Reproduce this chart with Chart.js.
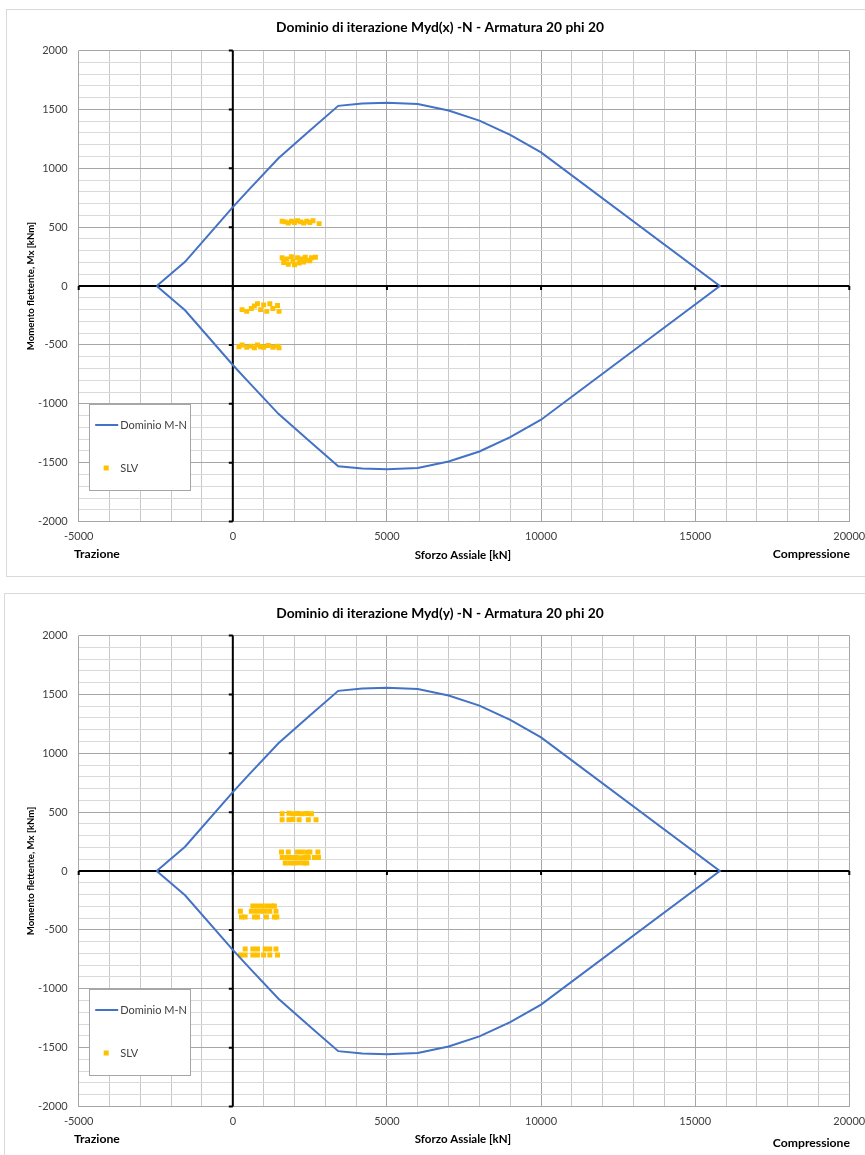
<!DOCTYPE html>
<html>
<head>
<meta charset="utf-8">
<script src="https://cdn.jsdelivr.net/npm/chart.js@4"></script>
<style>
    body { margin: 0; background: #FFF; width: 865px; height: 1155px; overflow: hidden; position: relative; }
    .frame { position: absolute; border: 1px solid #D9D9D9; }
    canvas { position: absolute; left: 0; }
</style>
</head>
<body>
<div class="frame" style="left:6px; top:9px; width:870px; height:566px;"></div>
<div class="frame" style="left:4px; top:593px; width:870px; height:600px;"></div>
<canvas id="chartX" width="865" height="585" style="top:0px;"></canvas>
<canvas id="chartY" width="865" height="570" style="top:585px;"></canvas>
<script>
// interaction domain M-N (same for both directions), closed curve
const domainN = [-2470, -1550, 0, 500, 1480, 2500, 3420, 4200, 5000, 6000, 7000, 8000, 9000, 10000, 15800,
    10000, 9000, 8000, 7000, 6000, 5000, 4200, 3420, 2500, 1480, 500, 0, -1550, -2470];
const domainM = [0, 206, 670, 812, 1085, 1320, 1530, 1550, 1556, 1545, 1490, 1405, 1283, 1135, 0,
    -1135, -1283, -1405, -1490, -1545, -1556, -1550, -1530, -1320, -1085, -812, -670, -206, 0];

// SLV points, Myd(x)
const slvXN = [
    1600, 1700, 1800, 1900, 2000, 2100, 2200, 2300, 2400, 2500, 2600, 2800,
    1600, 1650, 1750, 1800, 1900, 1950, 2000, 2100, 2150, 2200, 2300, 2350, 2400, 2500, 2550, 2680,
    300, 450, 600, 700, 800, 900, 1000, 1100, 1200, 1300, 1450, 1500,
    200, 300, 450, 600, 700, 800, 900, 1000, 1150, 1300, 1450, 1500];
const slvXM = [
    550, 545, 535, 550, 540, 555, 545, 535, 550, 540, 555, 530,
    240, 200, 230, 185, 250, 210, 180, 240, 195, 230, 205, 245, 220, 215, 240, 245,
    -200, -215, -190, -170, -150, -200, -160, -215, -150, -190, -165, -215,
    -515, -500, -520, -510, -525, -500, -515, -520, -505, -520, -510, -525];

// SLV points, Myd(y)
const slvYN = [
    1600, 1820, 1950, 2100, 2250, 2400, 2550,
    1600, 1820, 1950, 2150, 2450, 2700,
    1580, 1800, 2100, 2250, 2400, 2500, 2760,
    1600, 1750, 1900, 2050, 2200, 2350, 2450, 2650, 2780,
    1700, 1850, 2000, 2150, 2300, 2400,
    650, 800, 950, 1100, 1250, 1350,
    245, 600, 750, 900, 1050, 1200, 1400,
    280, 400, 700, 800, 1090, 1350, 1430,
    400, 650, 800, 1050, 1200, 1400,
    250, 400, 650, 800, 1000, 1200, 1450];
const slvYM = [
    487, 490, 487, 488, 486, 489, 487,
    436, 436, 437, 435, 436, 436,
    161, 161, 161, 162, 160, 161, 161,
    114, 114, 115, 114, 113, 114, 114, 114, 114,
    68, 68, 68, 69, 68, 68,
    -297, -297, -297, -297, -297, -297,
    -342, -342, -342, -342, -342, -342, -342,
    -390, -390, -390, -390, -390, -390, -390,
    -663, -663, -663, -663, -663, -663,
    -714, -714, -714, -714, -714, -714, -714];

const xTickLabels = [-5000, 0, 5000, 10000, 15000, 20000];
const yTickLabels = [-2000, -1500, -1000, -500, 0, 500, 1000, 1500, 2000];

const FONT = "Lato, 'Liberation Sans', sans-serif";
const BLUE = "#4472C4";
const GOLD = "#FFC000";

function toPoints(ns, ms) {
    return ns.map((n, i) => ({ x: n, y: ms[i] }));
}

// black axes crossing at 0 with small tick marks
const zeroAxes = {
    id: "zeroAxes",
    beforeDatasetsDraw(chart) {
        const { ctx, chartArea, scales: { x, y } } = chart;
        const x0 = x.getPixelForValue(0);
        const y0 = y.getPixelForValue(0);
        ctx.save();
        ctx.strokeStyle = "#000";
        ctx.lineWidth = 2;
        ctx.beginPath();
        ctx.moveTo(chartArea.left, y0);
        ctx.lineTo(chartArea.right, y0);
        ctx.moveTo(x0, chartArea.top);
        ctx.lineTo(x0, chartArea.bottom);
        ctx.stroke();
        ctx.beginPath();
        for (const v of yTickLabels) {
            const py = y.getPixelForValue(v);
            ctx.moveTo(x0 - 4, py);
            ctx.lineTo(x0, py);
        }
        for (const v of xTickLabels) {
            const px = x.getPixelForValue(v);
            ctx.moveTo(px, y0);
            ctx.lineTo(px, y0 + 4);
        }
        ctx.stroke();
        ctx.restore();
    }
};

// title, axis titles, legend box
const chartTexts = {
    id: "chartTexts",
    afterDraw(chart, args, opts) {
        const { ctx, chartArea } = chart;
        ctx.save();
        ctx.fillStyle = "#000";
        ctx.textBaseline = "middle";

        ctx.font = "bold 13.8px " + FONT;
        ctx.textAlign = "center";
        ctx.fillText(opts.title, 440, opts.titleY);

        ctx.font = "bold 11.5px " + FONT;
        ctx.fillText("Sforzo Assiale [kN]", 463, opts.xTitleY);

        ctx.font = "bold 9.6px " + FONT;
        ctx.save();
        ctx.translate(31, chart.scales.y.getPixelForValue(0));
        ctx.rotate(-Math.PI / 2);
        ctx.fillText("Momento flettente, Mx [kNm]", 0, 0);
        ctx.restore();

        ctx.font = "bold 12.2px " + FONT;
        ctx.textAlign = "left";
        ctx.fillText("Trazione", 74, opts.leftY);
        ctx.textAlign = "right";
        ctx.fillText("Compressione", 850, opts.rightY);

        // legend
        const lx = chartArea.left + 10.5;
        const ly = chartArea.top + 353.5;
        ctx.fillStyle = "#FFF";
        ctx.fillRect(lx, ly, 101, 86);
        ctx.strokeStyle = "#A6A6A6";
        ctx.lineWidth = 1;
        ctx.strokeRect(Math.round(lx) + 0.5, Math.round(ly) + 0.5, 101, 86);

        const ds = chart.data.datasets;
        ctx.strokeStyle = ds[0].borderColor;
        ctx.lineWidth = 2;
        ctx.beginPath();
        ctx.moveTo(lx + 6, ly + 21);
        ctx.lineTo(lx + 29, ly + 21);
        ctx.stroke();
        ctx.fillStyle = ds[1].backgroundColor;
        ctx.fillRect(lx + 14.5, ly + 61.5, 5, 5);

        ctx.fillStyle = "#404040";
        ctx.font = "11px " + FONT;
        ctx.textAlign = "left";
        ctx.fillText(ds[0].label, lx + 31, ly + 21);
        ctx.fillText(ds[1].label, lx + 31, ly + 64);
        ctx.restore();
    }
};

function gridColor(major, minor, step) {
    return ctx => {
        const v = Math.round(ctx.tick.value);
        return v % step === 0 ? major : minor;
    };
}

function buildChart(canvasId, slvN, slvM, texts, padBottom) {
    const el = document.getElementById(canvasId);
    return new Chart(el, {
        type: "scatter",
        plugins: [zeroAxes, chartTexts],
        data: {
            datasets: [{
                label: "Dominio M-N",
                data: toPoints(domainN, domainM),
                showLine: true,
                borderColor: BLUE,
                backgroundColor: BLUE,
                borderWidth: 2,
                pointRadius: 0,
                tension: 0
            }, {
                label: "SLV",
                data: toPoints(slvN, slvM),
                showLine: false,
                pointStyle: "rect",
                pointRadius: 3.5,
                pointBorderWidth: 0,
                backgroundColor: GOLD,
                borderColor: GOLD
            }]
        },
        options: {
            responsive: false,
            animation: false,
            events: [],
            layout: {
                autoPadding: false,
                padding: { left: 0, top: 50.5, right: 15.7, bottom: padBottom }
            },
            scales: {
                x: {
                    type: "linear",
                    min: -5000,
                    max: 20000,
                    // fixed box: no extra room for the end labels
                    afterFit: s => { s.height = 30; s.paddingLeft = 0; s.paddingRight = 0; },
                    ticks: {
                        stepSize: 1000,
                        autoSkip: false,
                        maxRotation: 0,
                        padding: 8,
                        color: "#404040",
                        font: { family: FONT, size: 11 },
                        callback: v => xTickLabels.includes(Math.round(v)) ? String(Math.round(v)) : ""
                    },
                    grid: { drawTicks: false, color: gridColor("#A6A6A6", "#C9C9C9", 5000), lineWidth: 1 },
                    border: { display: false }
                },
                y: {
                    type: "linear",
                    min: -2000,
                    max: 2000,
                    afterFit: s => { s.width = 78.7; s.paddingTop = 0; s.paddingBottom = 0; },
                    ticks: {
                        stepSize: 100,
                        autoSkip: false,
                        padding: 11,
                        color: "#404040",
                        font: { family: FONT, size: 11 },
                        callback: v => yTickLabels.includes(Math.round(v)) ? String(Math.round(v)) : ""
                    },
                    grid: { drawTicks: false, color: gridColor("#A6A6A6", "#D9D9D9", 500), lineWidth: 1 },
                    border: { display: false }
                }
            },
            plugins: {
                legend: { display: false },
                tooltip: { enabled: false },
                chartTexts: texts
            }
        }
    });
}

buildChart("chartX", slvXN, slvXM, {
    title: "Dominio di iterazione Myd(x) -N - Armatura 20 phi 20",
    titleY: 27.5, xTitleY: 555, leftY: 554, rightY: 554
}, 33.4);

buildChart("chartY", slvYN, slvYM, {
    title: "Dominio di iterazione Myd(y) -N - Armatura 20 phi 20",
    titleY: 29, xTitleY: 554, leftY: 554, rightY: 558
}, 18.5);
</script>
</body>
</html>
